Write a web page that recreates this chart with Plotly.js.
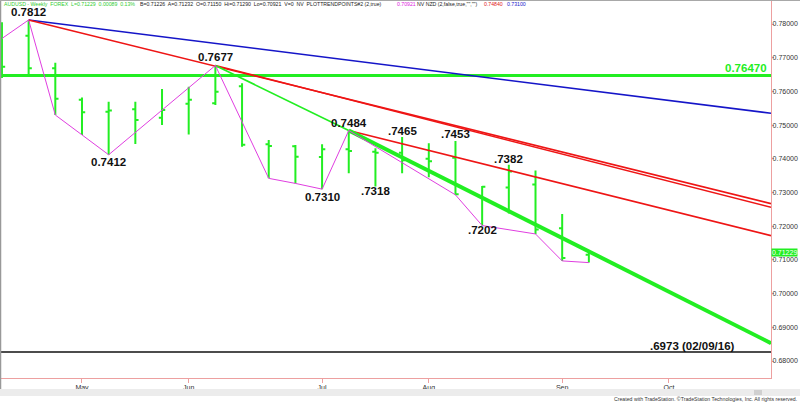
<!DOCTYPE html>
<html><head><meta charset="utf-8">
<script src="https://cdn.plot.ly/plotly-3.0.1.min.js"></script>
<style>html,body{margin:0;padding:0;background:#fff;}#chart{width:800px;height:402px;}</style>
</head><body><div id="chart"></div>
<script>
// ---- data (weekly AUD/USD bars, dated week-ending Friday) ----
const barDates  = ['2018-04-13','2018-04-20','2018-04-27','2018-05-04','2018-05-11','2018-05-18','2018-05-25','2018-06-01','2018-06-08','2018-06-15','2018-06-22','2018-06-29','2018-07-06','2018-07-13','2018-07-20','2018-07-27','2018-08-03','2018-08-10','2018-08-17','2018-08-24','2018-08-31','2018-09-07','2018-09-14'];
const barOpen   = [0.7760,0.7765,0.7669,0.7575,0.7540,0.7547,0.7522,0.7563,0.7565,0.7615,0.7443,0.7437,0.7405,0.7428,0.7421,0.7418,0.7400,0.7403,0.7290,0.7315,0.7324,0.7194,0.7115];
const barHigh   = [0.7805,0.7812,0.7685,0.7582,0.7569,0.7569,0.7607,0.7614,0.7677,0.7624,0.7456,0.7441,0.7443,0.7484,0.7431,0.7465,0.7446,0.7453,0.7319,0.7382,0.7365,0.7236,0.7129];
const barLow    = [0.7640,0.7649,0.7530,0.7471,0.7412,0.7444,0.7500,0.7472,0.7560,0.7436,0.7342,0.7327,0.7310,0.7357,0.7318,0.7357,0.7345,0.7293,0.7202,0.7238,0.7177,0.7097,0.7092];
const barClose  = [0.7673,0.7669,0.7578,0.7538,0.7543,0.7515,0.7545,0.7575,0.7599,0.7442,0.7438,0.7406,0.7428,0.7423,0.7418,0.7396,0.7393,0.7295,0.7317,0.7362,0.7190,0.7106,0.7123];

const monthTickDates  = ['2018-05-04','2018-06-01','2018-07-06','2018-08-03','2018-09-07','2018-10-05'];
const monthTickLabels = ['May','Jun','Jul','Aug','Sep','Oct'];

// swing (zigzag) points
const swingDates  = ['2018-04-13','2018-04-20','2018-04-27','2018-05-04','2018-05-11','2018-06-08','2018-06-22','2018-06-29','2018-07-06','2018-07-13','2018-08-10','2018-08-17','2018-08-31','2018-09-07','2018-09-14'];
const swingValues = [0.7757,0.7812,0.7530,0.7471,0.7412,0.7677,0.7342,0.7327,0.7310,0.7484,0.7293,0.7202,0.7177,0.7097,0.7092];

// trend lines (start point, value at right edge)
const chartEndDate = '2018-10-31 19:00';
const blueLineDates  = ['2018-04-20', chartEndDate]; const blueLineValues  = [0.7812, 0.7535];
const redLineADates  = ['2018-04-20', chartEndDate]; const redLineAValues  = [0.7812, 0.7267];
const redLineBDates  = ['2018-06-08', chartEndDate]; const redLineBValues  = [0.7677, 0.7256];
const redLineCDates  = ['2018-07-13', chartEndDate]; const redLineCValues  = [0.7484, 0.7172];
const greenThinDates = ['2018-06-08','2018-07-13'];  const greenThinValues = [0.7677, 0.7484];
const greenThickDates= ['2018-07-13', chartEndDate]; const greenThickValues= [0.7484, 0.6853];

const supportLevel = 0.7647; const supportLabel = '0.76470';
const lowLevel = 0.6827;     const lowLabel = '.6973 (02/09/16)';
const lastPrice = 0.71229;   const lastPriceLabel = '0.71229';

const pivotDates  = ['2018-04-20','2018-06-08','2018-05-11','2018-07-06','2018-07-13','2018-07-20','2018-07-27','2018-08-10','2018-08-24','2018-08-17'];
const pivotValues = [0.7812,0.7677,0.7412,0.7310,0.7484,0.7318,0.7465,0.7453,0.7382,0.7202];
const pivotTexts  = ['0.7812','0.7677','0.7412','0.7310','0.7484','.7318','.7465','.7453','.7382','.7202'];

const headerParts = ['AUDUSD - Weekly  FOREX  L=0.71229  0.00089  0.13%',
  'B=0.71226  A=0.71232  O=0.71150  Hi=0.71290  Lo=0.70921  V=0  NV  PLOTTRENDPOINTS#2 (2,true)',
  '0.70921', 'NV NZD (2,false,true,"","")', '0.74840', '0.73100'];

// ---- styles ----
const GREEN = '#22ee22', PINK_AXIS = '#eda0a0';
const pivotShift = [7.5, 8, -7, -7.5, 8, -4.5, 6, 7, 6, -4.5];
const headerX = [2, 138, 395, 415, 482, 505];
const headerColors = ['#33cc33','#222','#dd22dd','#222','#e02020','#2020cc'];
const plotW = 770, plotH = 378, left = 1;
const px2paperX = p => (p - left) / plotW;
const px2paperY = p => (plotH - p) / plotH;

const lineTrace = (x, y, color, width) => ({type:'scatter', mode:'lines', x:x, y:y, line:{color:color, width:width}, hoverinfo:'skip', showlegend:false});

const traces = [
  lineTrace(blueLineDates, blueLineValues, '#1515c8', 1.6),
  lineTrace(redLineADates, redLineAValues, '#ee1515', 1.6),
  lineTrace(redLineBDates, redLineBValues, '#ee1515', 1.4),
  lineTrace(redLineCDates, redLineCValues, '#ee1515', 1.6),
  lineTrace(greenThinDates, greenThinValues, GREEN, 1.6),
  lineTrace(greenThickDates, greenThickValues, GREEN, 4),
  lineTrace(swingDates, swingValues, '#e03ee0', 1),
  {type:'ohlc', x:barDates, open:barOpen, high:barHigh, low:barLow, close:barClose,
   increasing:{line:{color:GREEN, width:2}}, decreasing:{line:{color:GREEN, width:2}},
   tickwidth:0.12, hoverinfo:'skip', showlegend:false}
];

const annotations = [];
pivotDates.forEach((d,i) => annotations.push({x:d, y:pivotValues[i], xref:'x', yref:'y', text:'<b>'+pivotTexts[i]+'</b>',
  showarrow:false, yanchor:'middle', xanchor:'center', yshift:pivotShift[i], font:{family:'Arial, Liberation Sans', size:11.5, color:'#111'}}));
annotations.push({x:1, xref:'paper', y:supportLevel, yref:'y', text:'<b>'+supportLabel+'</b>', showarrow:false,
  xanchor:'right', xshift:-2, yanchor:'middle', yshift:7.5, font:{family:'Arial, Liberation Sans', size:11.5, color:GREEN}});
annotations.push({x:px2paperX(737), xref:'paper', y:lowLevel, yref:'y', text:'<b>'+lowLabel+'</b>', showarrow:false,
  xanchor:'right', yanchor:'middle', yshift:5.6, font:{family:'Arial, Liberation Sans', size:11.5, color:'#111'}});
annotations.push({x:1, xref:'paper', y:lastPrice, yref:'y', text:lastPriceLabel, showarrow:false,
  xanchor:'left', yanchor:'middle', bgcolor:'#22ee22', borderpad:0, font:{family:'Arial, Liberation Sans', size:7, color:'#ffffff'}});
headerParts.forEach((t,i) => annotations.push({x:px2paperX(headerX[i]), xref:'paper', y:px2paperY(4), yref:'paper', text:t, showarrow:false,
  xanchor:'left', yanchor:'middle', font:{family:'Arial, Liberation Sans', size:5.2, color:headerColors[i]}}));
annotations.push({x:px2paperX(799), xref:'paper', y:px2paperY(398.5), yref:'paper', text:'Created with TradeStation. ©TradeStation Technologies, Inc. All rights reserved.',
  showarrow:false, xanchor:'right', yanchor:'middle', font:{family:'Arial, Liberation Sans', size:5.2, color:'#333'}});

const shapes = [
  {type:'line', xref:'paper', x0:0, x1:1, yref:'y', y0:supportLevel, y1:supportLevel, line:{color:GREEN, width:3}, layer:'below'},
  {type:'line', xref:'paper', x0:0, x1:1, yref:'y', y0:lowLevel, y1:lowLevel, line:{color:'#111', width:1.5}, layer:'below'},
  {type:'rect', xref:'paper', yref:'paper', x0:px2paperX(0), x1:px2paperX(800), y0:px2paperY(389), y1:px2paperY(396), fillcolor:'#ececec', line:{width:0}},
  {type:'rect', xref:'paper', yref:'paper', x0:px2paperX(754), x1:px2paperX(762), y0:px2paperY(390), y1:px2paperY(395), fillcolor:'#d0d0d0', line:{width:0}},
  {type:'line', xref:'paper', yref:'paper', x0:px2paperX(0.5), x1:px2paperX(0.5), y0:px2paperY(389), y1:1, line:{color:'#999', width:1.5}},
  {type:'line', xref:'paper', yref:'paper', x0:px2paperX(0), x1:px2paperX(800), y0:1, y1:1, line:{color:'#a8a8a8', width:2}}
];

const layout = {
  width:800, height:402, margin:{l:left, r:29, t:0, b:24, pad:0},
  paper_bgcolor:'#fff', plot_bgcolor:'#fff', showlegend:false,
  font:{family:'Arial, Liberation Sans', color:'#333'},
  xaxis:{type:'date', range:['2018-04-12 18:00', chartEndDate], tickvals:monthTickDates, ticktext:monthTickLabels,
    showgrid:false, zeroline:false, showline:true, linecolor:PINK_AXIS, linewidth:1.2, ticks:'outside', ticklen:4, tickcolor:PINK_AXIS,
    ticklabelstandoff:-2, tickfont:{size:7, color:'#333'}, rangeslider:{visible:false}, fixedrange:true},
  yaxis:{side:'right', range:[0.67496, 0.787122], tick0:0.68, dtick:0.01, tickformat:'.5f',
    showgrid:false, zeroline:false, showline:true, linecolor:PINK_AXIS, linewidth:1.2, ticks:'outside', ticklen:2, tickcolor:PINK_AXIS,
    ticklabelstandoff:-3, tickfont:{size:7, color:'#333'}, fixedrange:true},
  annotations:annotations, shapes:shapes
};
Plotly.newPlot('chart', traces, layout, {displayModeBar:false, staticPlot:true});
</script></body></html>
